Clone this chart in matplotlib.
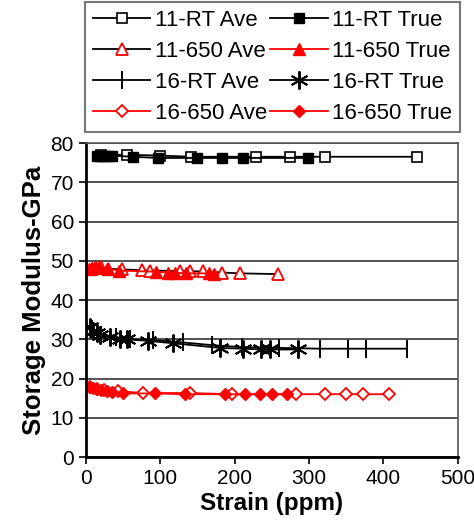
import matplotlib.pyplot as plt

plt.rcParams['font.family'] = ['Liberation Sans', 'DejaVu Sans']

# 11-RT
rt11_ave_x = [20, 55, 100, 142, 229, 274, 321, 445]
rt11_ave_y = [77.0, 77.0, 76.8, 76.5, 76.5, 76.5, 76.5, 76.5]
rt11_true_x = [15, 19, 25, 30, 35, 63, 97, 150, 183, 211, 298]
rt11_true_y = [76.8, 76.8, 76.8, 76.8, 76.8, 76.5, 76.2, 76.2, 76.2, 76.2, 76.2]

# 11-650
t650_11_ave_x = [8, 14, 20, 30, 48, 75, 86, 126, 140, 157, 183, 207, 258]
t650_11_ave_y = [48.0, 48.2, 48.3, 48.0, 47.8, 47.6, 47.5, 47.4, 47.3, 47.3, 47.0, 46.8, 46.6]
t650_11_true_x = [4, 8, 12, 18, 30, 45, 95, 110, 120, 135, 165, 172]
t650_11_true_y = [47.8, 48.2, 48.5, 48.3, 48.0, 47.5, 47.2, 47.0, 47.0, 46.8, 46.8, 46.6]

# 16-RT
rt16_ave_x = [8, 20, 40, 60, 90, 130, 170, 210, 260, 315, 352, 377, 431]
rt16_ave_y = [32.5, 31.2, 30.5, 30.0, 29.8, 29.2, 28.5, 28.0, 27.8, 27.6, 27.6, 27.6, 27.6]
rt16_true_x = [5, 10, 15, 19, 32, 46, 55, 83, 117, 180, 211, 236, 247, 285]
rt16_true_y = [33.0, 32.0, 31.5, 31.0, 30.5, 30.0, 30.0, 29.6, 29.0, 27.8, 27.6, 27.4, 27.4, 27.4]

# 16-650
t650_16_ave_x = [5, 15, 25, 43, 77, 140, 196, 283, 321, 350, 372, 408]
t650_16_ave_y = [17.8, 17.4, 17.0, 16.8, 16.3, 16.3, 16.0, 16.0, 16.0, 16.0, 16.0, 16.0]
t650_16_true_x = [5, 10, 15, 20, 28, 35, 50, 93, 133, 187, 214, 234, 250, 270]
t650_16_true_y = [17.8, 17.6, 17.3, 17.0, 16.8, 16.5, 16.2, 16.2, 16.0, 16.0, 16.0, 16.0, 16.0, 16.0]

fig = plt.figure(figsize=(4.74, 5.22), dpi=100)
ax = fig.add_axes([0.181, 0.1245, 0.785, 0.6015])

ms = 7
h1, = ax.plot(rt11_ave_x, rt11_ave_y, color='black', lw=1.3, marker='s', mfc='white',
              mec='black', ms=ms, mew=1.2, label='11-RT Ave')
h2, = ax.plot(rt11_true_x, rt11_true_y, color='black', lw=1.3, marker='s', mfc='black',
              mec='black', ms=ms, label='11-RT True')
h3, = ax.plot(t650_11_ave_x, t650_11_ave_y, color='black', lw=1.3, marker='^', mfc='white',
              mec='red', ms=ms + 1, mew=1.3, label='11-650 Ave')
h4, = ax.plot(t650_11_true_x, t650_11_true_y, color='red', lw=1.3, marker='^', mfc='red',
              mec='red', ms=ms + 1, label='11-650 True')
h5, = ax.plot(rt16_ave_x, rt16_ave_y, color='black', lw=1.3, marker='|', mec='black',
              ms=ms + 6, mew=1.4, label='16-RT Ave')
h6, = ax.plot(rt16_true_x, rt16_true_y, color='black', lw=1.3, marker=(6, 2, 0), mec='black',
              ms=ms + 6, mew=1.4, label='16-RT True')
h7, = ax.plot(t650_16_ave_x, t650_16_ave_y, color='red', lw=1.3, marker='D', mfc='white',
              mec='red', ms=ms - 1, mew=1.3, label='16-650 Ave')
h8, = ax.plot(t650_16_true_x, t650_16_true_y, color='red', lw=1.3, marker='D', mfc='red',
              mec='red', ms=ms - 1, label='16-650 True')

ax.set_xlim(0, 500)
ax.set_ylim(0, 80)
ax.set_xticks(range(0, 501, 100))
ax.set_yticks(range(0, 81, 10))
ax.yaxis.grid(True, color='#333333', lw=1.2)
ax.set_axisbelow(True)
ax.tick_params(labelsize=15, length=5, width=1.2, direction='out')
for side in ['left', 'bottom']:
    ax.spines[side].set_linewidth(2)
for side in ['right', 'top']:
    ax.spines[side].set_color('#555555')
    ax.spines[side].set_linewidth(1.2)

ax.set_xlabel('Strain (ppm)', fontsize=17.5, fontweight='bold', labelpad=3)
ax.set_ylabel('Storage Modulus-GPa', fontsize=18.5, fontweight='bold', labelpad=3)

# column-major fill: Ave entries in the left column, True in the right
handles = [h1, h3, h5, h7, h2, h4, h6, h8]
leg = ax.legend(handles=handles, ncol=2, loc='upper left',
                bbox_to_anchor=(0.179, 0.755, 0.791, 0.241),
                bbox_transform=fig.transFigure, mode='expand', fontsize=16,
                frameon=True, fancybox=False, edgecolor='#555555',
                handlelength=2.6, handletextpad=0.2, columnspacing=1.0,
                labelspacing=0.45, borderaxespad=0, borderpad=0.35)
leg.get_frame().set_linewidth(1.5)

fig.savefig('out.png', dpi=100)
